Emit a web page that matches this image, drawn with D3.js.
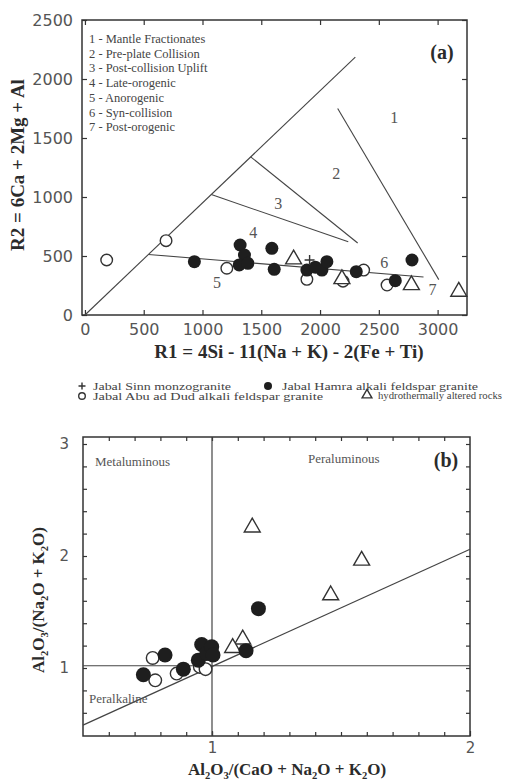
<!DOCTYPE html>
<html>
<head>
<meta charset="utf-8">
<script src="https://cdn.jsdelivr.net/npm/d3@7"></script>
<style>
  html, body { margin: 0; padding: 0; background: #fff; }
  svg { display: block; }
</style>
</head>
<body>
<div id="chart"></div>
<script>
// ---------- panel (a): R1 - R2 ----------
const aTicksX = [0, 500, 1000, 1500, 2000, 2500, 3000];
const aTicksY = [0, 500, 1000, 1500, 2000, 2500];

const aSinn = [[1911, 466]];
const aHamra = [[931, 452], [1320, 593], [1357, 508], [1312, 424], [1386, 438], [1590, 565], [1610, 387],
  [1888, 381], [1960, 405], [2016, 381], [2058, 452], [2308, 367], [2640, 291], [2782, 466]];
const aAbu = [[185, 466], [690, 630], [1207, 396], [1888, 302], [2195, 287], [2371, 381], [2570, 254]];
const aAltered = [[1775, 472], [2186, 305], [2777, 254], [3180, 198]];

const aFieldNames = ['1 - Mantle Fractionates', '2 - Pre-plate Collision', '3 - Post-collision Uplift',
  '4 - Late-orogenic', '5 - Anorogenic', '6 - Syn-collision', '7 - Post-orogenic'];
const aFieldLabels = [['1', 2632, 1678], ['2', 2138, 1203], ['3', 1644, 949], ['4', 1431, 703],
  ['5', 1124, 280], ['6', 2547, 445], ['7', 2956, 220]];
const aBoundaries = [
  [[0, 0], [2300, 2185]],
  [[1410, 1340], [2320, 610]],
  [[1075, 1021], [2240, 620]],
  [[2150, 1750], [3010, 300]],
  [[540, 513], [2880, 322]]
];

// ---------- panel (b): A/CNK - A/NK ----------
const bTicksX = [1, 2];
const bTicksY = [1, 2, 3];
const bHamra = [[0.734, 0.94], [0.818, 1.116], [0.889, 0.99], [0.947, 1.07], [0.96, 1.21], [0.98, 1.13],
  [0.999, 1.19], [1.004, 1.116], [1.132, 1.155], [1.18, 1.53]];
const bAbu = [[0.78, 0.89], [0.77, 1.09], [0.863, 0.95], [0.953, 1.01], [0.975, 0.99]];
const bAltered = [[1.156, 2.256], [1.58, 1.96], [1.46, 1.65], [1.119, 1.256], [1.08, 1.18]];
const bBoundaries = [
  [[1, 0.393], [1, 3.0625]],
  [[0.5, 1.02], [2, 1.02]],
  [[0.5, 0.49], [2, 2.06]]
];

const serif = '"Liberation Serif", "DejaVu Serif", serif';
const sans = '"DejaVu Sans", "Liberation Sans", sans-serif';
const ink = '#2b2b2b';
const grey = '#555';

const svg = d3.select('#chart').append('svg')
  .attr('width', 506)
  .attr('height', 781);

function drawMarkers(g, data, type, x, y, r) {
  const sel = g.append('g').selectAll('.m').data(data).enter();
  if (type === 'filled') {
    sel.append('circle')
      .attr('cx', d => x(d[0])).attr('cy', d => y(d[1])).attr('r', r)
      .attr('fill', '#1e1e1e');
  } else if (type === 'open') {
    sel.append('circle')
      .attr('cx', d => x(d[0])).attr('cy', d => y(d[1])).attr('r', r - 0.7)
      .attr('fill', '#fff').attr('stroke', '#333').attr('stroke-width', 1.4);
  } else if (type === 'tri') {
    sel.append('path')
      .attr('d', d3.symbol(d3.symbolTriangle).size(r * r * 2.6))
      .attr('transform', d => `translate(${x(d[0])},${y(d[1])})`)
      .attr('fill', '#fff').attr('stroke', '#333').attr('stroke-width', 1.4);
  } else if (type === 'plus') {
    sel.append('path')
      .attr('d', d => `M${x(d[0]) - r},${y(d[1])}h${2 * r}M${x(d[0])},${y(d[1]) - r}v${2 * r}`)
      .attr('stroke', '#333').attr('stroke-width', 1.4);
  }
}

function styleAxis(g, size) {
  g.select('.domain').remove();
  g.selectAll('line').attr('stroke', '#333').attr('stroke-width', 1.2);
  g.selectAll('text').attr('font-family', sans).attr('font-size', size).attr('fill', grey);
}

// text with subscripts, parts: [string, isSub]
function subText(g, parts, size) {
  const shift = size * 0.22;
  const t = g.append('text')
    .attr('font-family', serif).attr('font-weight', 'bold')
    .attr('font-size', size).attr('fill', ink).attr('text-anchor', 'middle');
  let lowered = false;
  parts.forEach(p => {
    const ts = t.append('tspan').text(p[0]);
    if (p[1]) {
      ts.attr('dy', shift).attr('font-size', size * 0.62);
      lowered = true;
    } else if (lowered) {
      ts.attr('dy', -shift);
      lowered = false;
    }
  });
  return t;
}

// ================= panel (a) =================
const xA = d3.scaleLinear().domain([-25, 3250]).range([82, 467]);
const yA = d3.scaleLinear().domain([0, 2500]).range([315, 20]);
const ga = svg.append('g');

ga.append('rect')
  .attr('x', xA.range()[0]).attr('y', yA.range()[1])
  .attr('width', xA.range()[1] - xA.range()[0]).attr('height', yA.range()[0] - yA.range()[1])
  .attr('fill', 'none').attr('stroke', '#333').attr('stroke-width', 1.5);

ga.append('g').attr('transform', `translate(0,${yA(0)})`)
  .call(d3.axisBottom(xA).tickValues(aTicksX).tickSizeInner(-5).tickSizeOuter(0).tickPadding(9).tickFormat(d3.format('d')))
  .call(g => styleAxis(g, 16));
ga.append('g').attr('transform', `translate(${xA.range()[0]},0)`)
  .call(d3.axisLeft(yA).tickValues(aTicksY).tickSizeInner(-5).tickSizeOuter(0).tickPadding(9).tickFormat(d3.format('d')))
  .call(g => styleAxis(g, 16));
ga.append('g').attr('transform', `translate(0,${yA.range()[1]})`)
  .call(d3.axisTop(xA).tickValues(aTicksX).tickSizeInner(-5).tickSizeOuter(0).tickFormat(''))
  .call(g => styleAxis(g, 16));
ga.append('g').attr('transform', `translate(${xA.range()[1]},0)`)
  .call(d3.axisRight(yA).tickValues(aTicksY).tickSizeInner(-5).tickSizeOuter(0).tickFormat(''))
  .call(g => styleAxis(g, 16));

const lineA = d3.line().x(d => xA(d[0])).y(d => yA(d[1]));
ga.selectAll('.bound').data(aBoundaries).enter().append('path')
  .attr('d', lineA).attr('fill', 'none').attr('stroke', '#444').attr('stroke-width', 1.1);

ga.selectAll('.fname').data(aFieldNames).enter().append('text')
  .attr('x', 89).attr('y', (d, i) => 43 + i * 14.7)
  .attr('font-family', serif).attr('font-size', 12.5).attr('fill', '#444')
  .text(d => d);

ga.selectAll('.fnum').data(aFieldLabels).enter().append('text')
  .attr('x', d => xA(d[1])).attr('y', d => yA(d[2])).attr('dy', '0.35em')
  .attr('text-anchor', 'middle')
  .attr('font-family', serif).attr('font-size', 16).attr('fill', '#555')
  .text(d => d[0]);

ga.append('text').attr('x', 442).attr('y', 59).attr('text-anchor', 'middle')
  .attr('font-family', serif).attr('font-weight', 'bold').attr('font-size', 20).attr('fill', ink)
  .text('(a)');

drawMarkers(ga, aAbu, 'open', xA, yA, 6.5);
drawMarkers(ga, aAltered, 'tri', xA, yA, 6.5);
drawMarkers(ga, aHamra, 'filled', xA, yA, 6.5);
drawMarkers(ga, aSinn, 'plus', xA, yA, 5);

ga.append('text')
  .attr('transform', 'translate(17,165) rotate(-90)').attr('dy', '0.35em')
  .attr('text-anchor', 'middle')
  .attr('font-family', serif).attr('font-weight', 'bold').attr('font-size', 19).attr('fill', ink)
  .text('R2 = 6Ca + 2Mg + Al');

ga.append('text')
  .attr('x', 289).attr('y', 358).attr('text-anchor', 'middle')
  .attr('font-family', serif).attr('font-weight', 'bold').attr('font-size', 19).attr('fill', ink)
  .text('R1 = 4Si - 11(Na + K) - 2(Fe + Ti)');

// ================= legend =================
const legendItems = [
  {type: 'plus', mx: 82, my: 386, tx: 93, tw: 138, label: 'Jabal Sinn monzogranite'},
  {type: 'filled', mx: 268, my: 386, tx: 282, tw: 196, label: 'Jabal Hamra alkali feldspar granite'},
  {type: 'open', mx: 82, my: 396, tx: 93, tw: 230, label: 'Jabal Abu ad Dud alkali feldspar granite'},
  {type: 'tri', mx: 367, my: 395, tx: 378, tw: 124, label: 'hydrothermally altered rocks'}
];
const gl = svg.append('g');
const idScale = d3.scaleIdentity();
legendItems.forEach(it => {
  drawMarkers(gl, [[it.mx, it.my]], it.type, idScale, idScale, it.type === 'plus' ? 3.5 : 4);
  gl.append('text')
    .attr('x', it.tx).attr('y', it.my + 3.5)
    .attr('font-family', serif).attr('font-size', 10).attr('fill', '#444')
    .attr('textLength', it.tw).attr('lengthAdjust', 'spacingAndGlyphs')
    .text(it.label);
});

// ================= panel (b) =================
const xB = d3.scaleLinear().domain([0.5, 2]).range([83, 470]);
const yB = d3.scaleLinear().domain([0.393, 3.0625]).range([736, 437]);
const gb = svg.append('g');

gb.append('rect')
  .attr('x', xB.range()[0]).attr('y', yB.range()[1])
  .attr('width', xB.range()[1] - xB.range()[0]).attr('height', yB.range()[0] - yB.range()[1])
  .attr('fill', 'none').attr('stroke', '#333').attr('stroke-width', 1.5);

const bMinorX = d3.range(6, 20).map(d => d / 10);
const bMinorY = d3.range(3, 16).map(d => d / 5);

gb.append('g').attr('transform', `translate(0,${yB.range()[0]})`)
  .call(d3.axisBottom(xB).tickValues(bMinorX).tickSizeInner(-4).tickSizeOuter(0).tickFormat(''))
  .call(g => styleAxis(g, 15));
gb.append('g').attr('transform', `translate(0,${yB.range()[0]})`)
  .call(d3.axisBottom(xB).tickValues(bTicksX).tickSizeInner(-5).tickSizeOuter(0).tickPadding(6).tickFormat(d3.format('d')))
  .call(g => styleAxis(g, 15));
gb.append('g').attr('transform', `translate(0,${yB.range()[1]})`)
  .call(d3.axisTop(xB).tickValues(bMinorX).tickSizeInner(-4).tickSizeOuter(0).tickFormat(''))
  .call(g => styleAxis(g, 15));
gb.append('g').attr('transform', `translate(${xB.range()[0]},0)`)
  .call(d3.axisLeft(yB).tickValues(bMinorY).tickSizeInner(-4).tickSizeOuter(0).tickFormat(''))
  .call(g => styleAxis(g, 15));
gb.append('g').attr('transform', `translate(${xB.range()[0]},0)`)
  .call(d3.axisLeft(yB).tickValues(bTicksY).tickSizeInner(0).tickSizeOuter(0).tickPadding(14).tickFormat(d3.format('d')))
  .call(g => styleAxis(g, 15));
gb.append('g').attr('transform', `translate(${xB.range()[1]},0)`)
  .call(d3.axisRight(yB).tickValues(bMinorY).tickSizeInner(-4).tickSizeOuter(0).tickFormat(''))
  .call(g => styleAxis(g, 15));

const lineB = d3.line().x(d => xB(d[0])).y(d => yB(d[1]));
gb.selectAll('.bound').data(bBoundaries).enter().append('path')
  .attr('d', lineB).attr('fill', 'none').attr('stroke', '#444').attr('stroke-width', 1.2);

gb.append('text').attr('x', 95).attr('y', 466)
  .attr('font-family', serif).attr('font-size', 13).attr('fill', '#555').text('Metaluminous');
gb.append('text').attr('x', 308).attr('y', 463)
  .attr('font-family', serif).attr('font-size', 13).attr('fill', '#555').text('Peraluminous');
gb.append('text').attr('x', 89).attr('y', 703)
  .attr('font-family', serif).attr('font-size', 13).attr('fill', '#555').text('Peralkaline');
gb.append('text').attr('x', 446).attr('y', 467).attr('text-anchor', 'middle')
  .attr('font-family', serif).attr('font-weight', 'bold').attr('font-size', 20).attr('fill', ink)
  .text('(b)');

drawMarkers(gb, bAbu, 'open', xB, yB, 7);
drawMarkers(gb, bAltered, 'tri', xB, yB, 6.5);
drawMarkers(gb, bHamra, 'filled', xB, yB, 7.5);

subText(gb, [['Al'], ['2', 1], ['O'], ['3', 1], ['/(Na'], ['2', 1], ['O + K'], ['2', 1], ['O)']], 17)
  .attr('transform', 'translate(44,600) rotate(-90)');

subText(gb, [['Al'], ['2', 1], ['O'], ['3', 1], ['/(CaO + Na'], ['2', 1], ['O + K'], ['2', 1], ['O)']], 17)
  .attr('transform', 'translate(287,775)');
</script>
</body>
</html>
